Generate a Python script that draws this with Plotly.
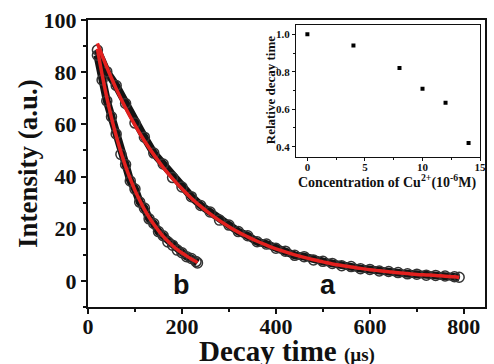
import plotly.graph_objects as go

# ---- main chart data ----
t_a = [20, 40, 60, 80, 100, 120, 140, 160, 180, 200, 220, 240, 260, 280, 300, 320, 340, 360, 380, 400,
       420, 440, 460, 480, 500, 520, 540, 560, 580, 600, 620, 640, 660, 680, 700, 720, 740, 760, 780, 790]
data_a = [88.5, 80.2, 74.9, 68.0, 60.5, 55.1, 49.0, 44.8, 39.6, 36.0, 32.3, 28.9, 26.4, 23.3, 21.4, 18.9,
          17.3, 15.0, 14.1, 12.5, 11.4, 9.8, 9.3, 8.0, 7.5, 6.7, 5.8, 5.5, 4.7, 4.4, 3.8, 3.6, 3.2, 2.7,
          2.6, 2.2, 2.1, 1.9, 1.6, 1.4]
fit_a = [91, 81.9, 73.7, 66.3, 59.7, 53.7, 48.4, 43.5, 39.2, 35.3, 31.7, 28.6, 25.7, 23.1, 20.8, 18.7,
         16.9, 15.2, 13.7, 12.3, 11.1, 10.0, 9.0, 8.1, 7.3, 6.5, 5.9, 5.3, 4.8, 4.3, 3.9, 3.5, 3.1, 2.8,
         2.5, 2.3, 2.1, 1.8, 1.6, 1.3]

t_b = [20, 30, 40, 50, 60, 70, 80, 90, 100, 110, 120, 130, 140, 150, 160, 170, 180, 190, 200, 210, 220, 230, 233]
data_b = [86.5, 77.0, 69.0, 62.9, 56.3, 48.5, 44.6, 38.3, 35.2, 30.2, 27.9, 23.8, 22.0, 18.9, 17.3, 14.9,
          13.7, 11.8, 10.8, 9.3, 8.6, 7.4, 6.9]
fit_b = [89, 79.1, 70.3, 62.5, 55.6, 49.4, 43.9, 39.1, 34.7, 30.9, 27.4, 24.4, 21.7, 19.3, 17.1, 15.2,
         13.5, 12.0, 10.7, 9.5, 8.4, 7.4, 7.0]

# ---- inset data ----
conc = [0, 4, 8, 10, 12, 14]
rel_decay = [1.0, 0.94, 0.82, 0.71, 0.635, 0.42]

main_xticks = [0, 200, 400, 600, 800]
main_yticks = [0, 20, 40, 60, 80, 100]

SERIF = "Liberation Serif"
RED = "#e3201e"
INK = "#111"

fig = go.Figure()

for t, d in ((t_a, data_a), (t_b, data_b)):
    fig.add_trace(go.Scatter(x=t, y=d, mode="lines", line=dict(color="#141414", width=8),
                             hoverinfo="skip", showlegend=False))
    fig.add_trace(go.Scatter(x=t, y=d, mode="markers",
                             marker=dict(symbol="circle-open", size=10, color="#333",
                                         line=dict(width=1.5, color="#333")),
                             showlegend=False))
for t, f in ((t_a, fit_a), (t_b, fit_b)):
    fig.add_trace(go.Scatter(x=t, y=f, mode="lines", line=dict(color=RED, width=3.5, shape="spline"),
                             showlegend=False))

fig.add_trace(go.Scatter(x=conc, y=rel_decay, mode="markers", xaxis="x2", yaxis="y2",
                         marker=dict(symbol="square", size=4, color="black"), showlegend=False))

for lbl, xv in (("b", 200), ("a", 510)):
    fig.add_annotation(x=xv, y=-1.5, text="<b>%s</b>" % lbl, showarrow=False,
                       font=dict(family="Liberation Sans", size=27, color=INK), xref="x", yref="y")

# axis titles as paper annotations
fig.add_annotation(x=(290 - 88) / 403, y=(307 - 351) / 287, xref="paper", yref="paper",
                   text="<b>Decay time <span style='font-size:19px'>(µs)</span></b>", showarrow=False,
                   font=dict(family=SERIF, size=29, color=INK), xanchor="center", yanchor="middle")
fig.add_annotation(x=(27 - 88) / 403, y=(307 - 163) / 287, xref="paper", yref="paper",
                   text="<b>Intensity (a.u.)</b>", showarrow=False, textangle=-90,
                   font=dict(family=SERIF, size=27, color=INK), xanchor="center", yanchor="middle")
fig.add_annotation(x=(392 - 88) / 403, y=(307 - 181) / 287, xref="paper", yref="paper",
                   text="<b>Concentration of Cu<sup>2+</sup>(10<sup>-6</sup>M)</b>", showarrow=False,
                   font=dict(family=SERIF, size=14, color=INK), xanchor="center", yanchor="middle")
fig.add_annotation(x=(273 - 88) / 403, y=(307 - 90) / 287, xref="paper", yref="paper",
                   text="<b>Relative decay time</b>", showarrow=False, textangle=-90,
                   font=dict(family=SERIF, size=13, color=INK), xanchor="center", yanchor="middle")

axis_common = dict(showline=True, linecolor=INK, mirror=True, ticks="outside",
                   showgrid=False, zeroline=False, tickcolor=INK)

fig.update_layout(
    width=494, height=364,
    margin=dict(l=88, r=3, t=20, b=57),
    paper_bgcolor="white", plot_bgcolor="white",
    xaxis=dict(range=[0, 845], tickvals=main_xticks, linewidth=2, ticklen=5, tickwidth=2,
               ticklabelstandoff=-6,
               minor=dict(dtick=100, tick0=0, ticks="outside", ticklen=3, tickcolor=INK, tickwidth=1.5),
               tickfont=dict(family=SERIF, size=22, color=INK, weight="bold"),
               **axis_common),
    yaxis=dict(range=[-10, 100], tickvals=main_yticks, linewidth=2, ticklen=5, tickwidth=2,
               minor=dict(dtick=10, tick0=0, ticks="outside", ticklen=3, tickcolor=INK, tickwidth=1.5),
               tickfont=dict(family=SERIF, size=22, color=INK, weight="bold"),
               **axis_common),
    xaxis2=dict(domain=[0.5236, 0.9876], anchor="y2", range=[-1, 15], tickvals=[0, 5, 10, 15],
                linewidth=1, ticklen=3, tickwidth=1, ticklabelstandoff=-3,
                minor=dict(dtick=2.5, tick0=0, ticks="outside", ticklen=2, tickcolor=INK),
                tickfont=dict(family=SERIF, size=11, color=INK, weight="bold"),
                **axis_common),
    yaxis2=dict(domain=[0.5226, 0.9826], anchor="x2", range=[0.345, 1.05], tickvals=[0.4, 0.6, 0.8, 1.0],
                tickformat=".1f", linewidth=1, ticklen=3, tickwidth=1,
                minor=dict(dtick=0.1, tick0=0, ticks="outside", ticklen=2, tickcolor=INK),
                tickfont=dict(family=SERIF, size=11, color=INK, weight="bold"),
                **axis_common),
)

fig.write_html("out.html", config={"displayModeBar": False},
               post_script="document.body.style.margin='0';document.body.style.padding='0';"
                           "document.body.style.overflow='hidden';")
